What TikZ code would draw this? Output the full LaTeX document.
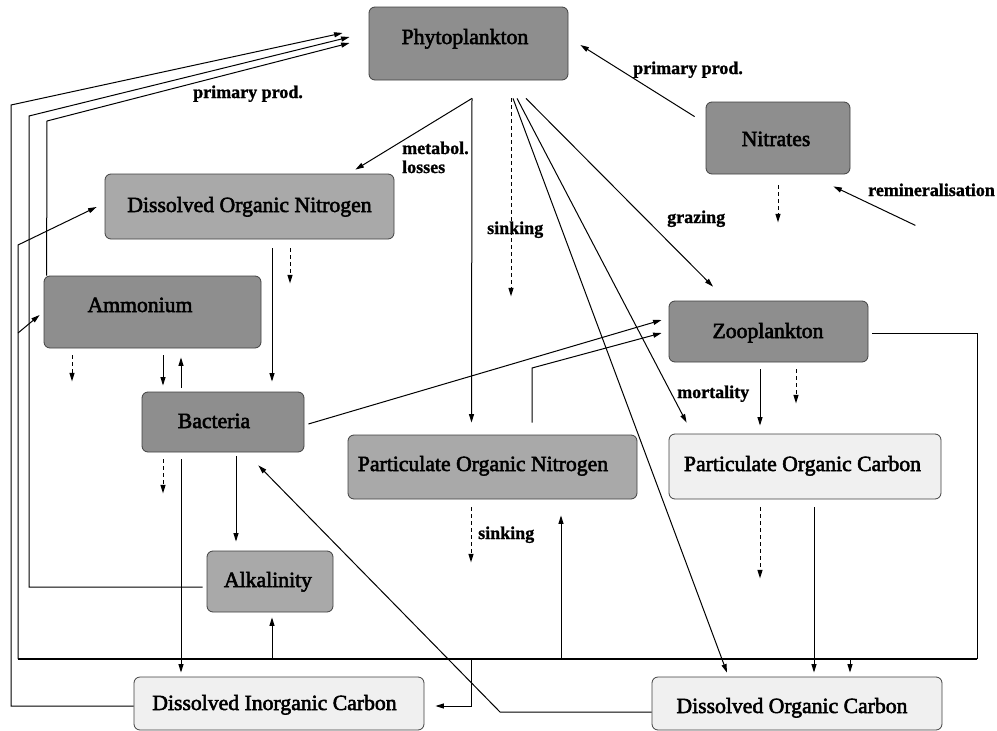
\documentclass[tikz,border=0pt]{standalone}
\usepackage{fontspec}
\setmainfont{Liberation Serif}
\newfontfamily\boxfont{Liberation Serif}[FakeBold=2.5]
\newfontfamily\lblfont{Liberation Serif Bold}[FakeBold=1.2]
\usetikzlibrary{arrows.meta,calc}
\definecolor{dkgray}{HTML}{8E8E8E}
\definecolor{mdgray}{HTML}{A9A9A9}
\definecolor{ltgray}{HTML}{F0F0F0}
\tikzset{
  boxbase/.style={draw=black!75, line width=0.8pt, rounded corners=6pt, inner sep=0pt},
  dkbox/.style={boxbase, fill=dkgray},
  mdbox/.style={boxbase, fill=mdgray},
  ltbox/.style={boxbase, fill=ltgray},
  ntext/.style={anchor=base, inner sep=0pt, font=\boxfont\fontsize{21.7}{24}\selectfont},
  lbl/.style={anchor=base west, inner sep=0pt, font=\lblfont\fontsize{18}{13}\selectfont},
  conn/.style={line width=1pt},
  arr/.style={conn, -{Triangle[length=8.5pt,width=5pt]}},
  darr/.style={arr, dash pattern=on 4pt off 3pt},
  bus/.style={line width=1.8pt}
}
\begin{document}
\begin{tikzpicture}[x=1pt,y=-1pt]
\useasboundingbox (0,0) rectangle (997,731);
% boxes
\node[dkbox, minimum width=199pt, minimum height=73pt] (phyto) at (468.5,43.5) {};
\node[dkbox, minimum width=144pt, minimum height=72pt] (nitr) at (778,138) {};
\node[mdbox, minimum width=289pt, minimum height=65pt] (don) at (249.5,206.5) {};
\node[dkbox, minimum width=217pt, minimum height=72pt] (amm) at (152.5,312) {};
\node[dkbox, minimum width=162pt, minimum height=60pt] (bact) at (223,422) {};
\node[mdbox, minimum width=289pt, minimum height=64pt] (pon) at (492.5,467) {};
\node[dkbox, minimum width=199pt, minimum height=61pt] (zoo) at (768.5,331.5) {};
\node[ltbox, minimum width=272pt, minimum height=65pt] (poc) at (805,466.5) {};
\node[mdbox, minimum width=126pt, minimum height=61pt] (alk) at (270,581.5) {};
\node[ltbox, minimum width=290pt, minimum height=53pt] (dic) at (279,703.5) {};
\node[ltbox, minimum width=290pt, minimum height=53pt] (doc) at (797,703.5) {};
% box texts
\node[ntext] (phyto-t) at (465,44) {Phytoplankton};
\node[ntext] (nitr-t) at (776,146) {Nitrates};
\node[ntext] (don-t) at (249.5,212) {Dissolved Organic Nitrogen};
\node[ntext] (amm-t) at (140,312) {Ammonium};
\node[ntext] (bact-t) at (214,428) {Bacteria};
\node[ntext] (pon-t) at (483,471) {Particulate Organic Nitrogen};
\node[ntext] (zoo-t) at (768,338) {Zooplankton};
\node[ntext] (poc-t) at (802.5,471) {Particulate Organic Carbon};
\node[ntext] (alk-t) at (268,587) {Alkalinity};
\node[ntext] (dic-t) at (274.5,710) {Dissolved Inorganic Carbon};
\node[ntext] (doc-t) at (792,713) {Dissolved Organic Carbon};
% labels
\node[lbl] (l-pp1) at (193,98) {primary prod.};
\node[lbl] (l-met1) at (402,154) {metabol.};
\node[lbl] (l-met2) at (402,173) {losses};
\node[lbl] (l-sink1) at (487,234) {sinking};
\node[lbl] (l-graz) at (667,223) {grazing};
\node[lbl] (l-pp2) at (633,74) {primary prod.};
\node[lbl] (l-remin) at (868,196) {remineralisation};
\node[lbl] (l-mort) at (677,398) {mortality};
\node[lbl] (l-sink2) at (478,539) {sinking};
% primary production from the left
\draw[arr] ($(dic.west)+(0,2.5)$) -- (11,706) -- (11,105) -- ($(phyto.west)+(-26,-10.5)$);
\draw[arr] ($(alk.west)+(-4,5.5)$) -- (29,587) -- (29,116) -- ($(phyto.west)+(-19,-6.5)$);
\draw[arr] ($(amm.north west)+(3,0)$) -- (47,121) -- ($(phyto.west)+(-19,-0.5)$);
% zooplankton bus
\coordinate (zc1) at (977,333);
\coordinate (zc2) at (977,659);
\coordinate (bl) at (18,659);
\draw[conn] ($(zoo.east)+(4,1.5)$) -- (zc1) -- (zc2);
\draw[bus] (zc2) -- (bl);
\draw[arr] (bl) -- (18,245) -- ($(don.west)+(-8,0.5)$);
\draw[arr] (18,333) -- ($(amm.west)+(-4,3)$);
\draw[arr] (272,659) -- ($(alk.south)+(2,5)$);
\draw[arr] (561,659) -- ($(pon.south)+(68.5,16)$);
\draw[arr] (850,659) -- ($(doc.north)+(53,-4)$);
\draw[arr] (471,659) -- (471,706) -- ($(dic.east)+(11,2.5)$);
% from phytoplankton
\draw[arr] ($(phyto.south)+(3.5,18)$) -- ($(don.north east)+(-39,-4)$);
\draw[arr] ($(phyto.south)+(3.5,18)$) -- ($(pon.north)+(-21,-12)$);
\draw[darr] ($(phyto.south)+(42.5,18)$) -- ($(phyto.south)+(42.5,216)$);
\draw[arr] ($(phyto.south)+(44.5,18)$) -- ($(doc.north)+(-70,-4)$);
\draw[arr] ($(phyto.south)+(48.5,18)$) -- ($(poc.north west)+(18,-11)$);
\draw[arr] ($(phyto.south)+(57.5,18)$) -- ($(zoo.north)+(-55.5,-14)$);
% nitrates
\draw[arr] ($(nitr.north west)+(-11,15)$) -- ($(phyto.east)+(12,1.5)$);
\draw[arr] ($(nitr.south east)+(65,51)$) -- ($(nitr.south east)+(-17,12)$);
\draw[darr] ($(nitr.south)+(0,11)$) -- ($(nitr.south)+(0,48)$);
% DON
\draw[arr] ($(don.south)+(22.5,9)$) -- ($(bact.north)+(49,-10)$);
\draw[darr] ($(don.south)+(40.5,9)$) -- ($(don.south)+(40.5,44)$);
% ammonium
\draw[darr] ($(amm.south)+(-80.5,7)$) -- ($(amm.south)+(-80.5,33)$);
\draw[arr] ($(amm.south)+(10.5,7)$) -- ($(bact.north)+(-60,-6)$);
\draw[arr] ($(bact.north)+(-42,-4)$) -- ($(amm.south)+(28.5,9)$);
% bacteria
\draw[arr] ($(bact.east)+(4,2)$) -- ($(zoo.west)+(-7,-11.5)$);
\draw[darr] ($(bact.south)+(-60,7)$) -- ($(bact.south)+(-60,41)$);
\draw[arr] ($(bact.south)+(-42,7)$) -- ($(dic.north)+(-98,-4)$);
\draw[arr] ($(bact.south)+(13,4)$) -- ($(alk.north)+(-34,-9)$);
% PON
\draw[arr] ($(pon.north)+(39.5,-12)$) -- (532,368) -- ($(zoo.west)+(-7,1.5)$);
\draw[darr] ($(pon.south)+(-21.5,8)$) -- ($(pon.south)+(-21.5,63)$);
% DOC to bacteria
\draw[arr] ($(doc.west)+(0,8.5)$) -- (500,712) -- ($(bact.south east)+(-46,13)$);
% POC
\draw[darr] ($(poc.south)+(-45,8)$) -- ($(poc.south)+(-45,79)$);
\draw[arr] ($(poc.south)+(9,8)$) -- ($(doc.north)+(17,-4)$);
% zooplankton
\draw[arr] ($(zoo.south)+(-8.5,7)$) -- ($(poc.north)+(-45,-8)$);
\draw[darr] ($(zoo.south)+(27.5,7)$) -- ($(zoo.south)+(27.5,41)$);
\end{tikzpicture}
\end{document}
